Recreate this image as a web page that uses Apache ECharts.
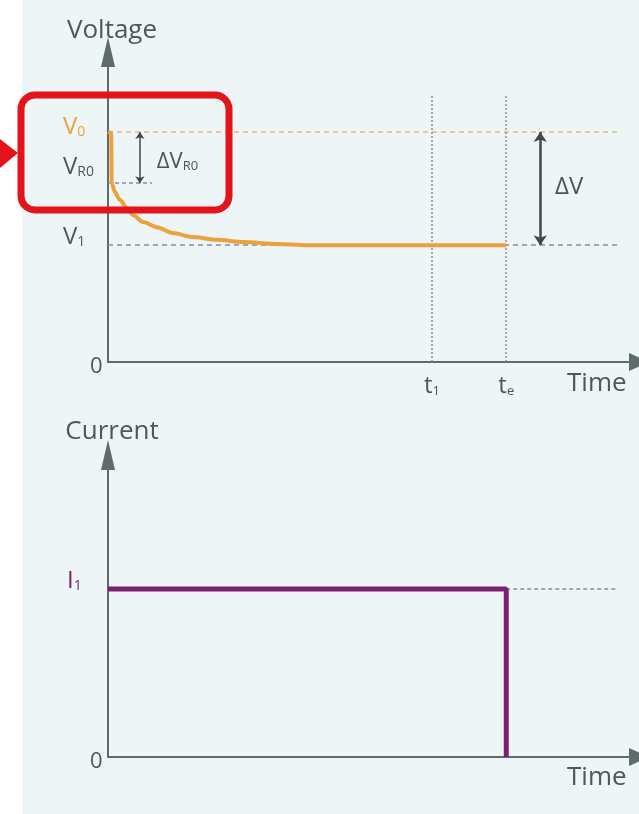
<!DOCTYPE html>
<html>
<head>
<meta charset="utf-8">
<script src="https://cdn.jsdelivr.net/npm/echarts@6/dist/echarts.min.js"></script>
<style>
html,body{margin:0;padding:0;}
body{background:linear-gradient(to right,#ffffff 22px,#edf5f7 22px);}
#chart{width:639px;height:814px;}
</style>
</head>
<body>
<div id="chart"></div>
<script>
// ---- data ----
const timeMax = 100;
const t1 = 61, te = 75;
const V0 = 74.2, VR0 = 57.7, V1 = 37.7;
const voltageTime  = [0, 0.6, 0.7, 1.3, 2.2, 3.6, 4.7, 6.6, 9.2, 12.2, 16.0, 20.5, 25.4, 31.8, 37.4, 75];
const voltageValue = [74.2, 73.9, 57.7, 54.8, 52.3, 49.7, 47.4, 45.2, 43.5, 41.6, 40.3, 39.4, 38.7, 38.1, 37.7, 37.7];
const I1 = 55.6;
const currentTime  = [0, 75, 75];
const currentValue = [I1, I1, 0];
const dashEnd = 96;
const tLineTop = 86.1;
const dVx = 81.4, dVR0x = 6.0, vr0DashEnd = 8.3;
const dVLabelPos = [84.2, 56.5];
const dVR0LabelPos = [9.2, 64.5];
const vTickValues = [0, VR0, V1, V0];
const vTickLabels = ['{z|0}', '{ra|V}{rb|R0}', '{ua|V}{ub|1}', '{oa|V}{ob|0}'];
const tTickValues = [t1, te];
const tTickLabels = ['{t|t}{ts|1}', '{t|t}{ts|e}'];
const iTickValues = [0, I1];
const iTickLabels = ['{z|0}', '{ia|I}{ib|1}'];

const FONT = '"Open Sans", sans-serif';
const TXT = '#4f5858';
const AX = '#5f6a6a';
const ORANGE = '#eba23b';
const PURPLE = '#7b1f6f';
const GRAYDASH = '#84909a';

function pick(values, labels) {
  return function (v) {
    for (let i = 0; i < values.length; i++) if (Math.abs(v - values[i]) < 1e-6) return labels[i];
    return '';
  };
}

const bigV = {fontFamily: FONT, fontSize: 24, color: TXT, verticalAlign: 'bottom'};
const smallV = {fontFamily: FONT, fontSize: 14, color: TXT, verticalAlign: 'bottom'};
function st(base, extra) { return Object.assign({}, base, extra); }

const chart = echarts.init(document.getElementById('chart'), null, {renderer: 'canvas'});
const option = {
  backgroundColor: 'transparent',
  animation: false,
  grid: [
    {left: 108, top: 52, width: 531, height: 310},
    {left: 108, top: 455, width: 531, height: 302}
  ],
  xAxis: [
    {
      gridIndex: 0, type: 'value', min: 0, max: timeMax,
      axisLine: {show: true, symbol: ['none', 'triangle'], symbolSize: [18, 20], lineStyle: {color: AX, width: 2}},
      axisTick: {show: false}, splitLine: {show: false},
      axisLabel: {
        customValues: tTickValues, formatter: pick(tTickValues, tTickLabels), margin: 12,
        rich: {
          t: {fontFamily: FONT, fontSize: 24, color: TXT, verticalAlign: 'bottom'},
          ts: {fontFamily: FONT, fontSize: 13, color: TXT, verticalAlign: 'bottom'}
        }
      },
      name: 'Time', nameLocation: 'end', nameGap: -72,
      nameTextStyle: {fontFamily: FONT, fontSize: 26, color: TXT, verticalAlign: 'top', padding: [9, 0, 0, 0]}
    },
    {
      gridIndex: 1, type: 'value', min: 0, max: timeMax,
      axisLine: {show: true, symbol: ['none', 'triangle'], symbolSize: [18, 20], lineStyle: {color: AX, width: 2}},
      axisTick: {show: false}, splitLine: {show: false}, axisLabel: {show: false},
      name: 'Time', nameLocation: 'end', nameGap: -72,
      nameTextStyle: {fontFamily: FONT, fontSize: 26, color: TXT, verticalAlign: 'top', padding: [8, 0, 0, 0]}
    }
  ],
  yAxis: [
    {
      gridIndex: 0, type: 'value', min: 0, max: 100,
      axisLine: {show: true, symbol: ['none', 'triangle'], symbolSize: [14, 30], lineStyle: {color: AX, width: 2}},
      axisTick: {show: false}, splitLine: {show: false},
      axisLabel: {
        customValues: vTickValues, formatter: pick(vTickValues, vTickLabels), align: 'left', margin: 45,
        rich: {
          z: {fontFamily: FONT, fontSize: 22, color: TXT, padding: [10, 0, 0, 27]},
          oa: st(bigV, {color: ORANGE, padding: [0, 0, 10, 0]}),
          ob: st(smallV, {color: ORANGE, padding: [0, 0, 10, 0]}),
          ra: st(bigV, {padding: [0, 0, 32, 0]}),
          rb: st(smallV, {padding: [0, 0, 32, 0]}),
          ua: st(bigV, {padding: [0, 0, 16, 0]}),
          ub: st(smallV, {padding: [0, 0, 16, 0]})
        }
      },
      name: 'Voltage', nameLocation: 'end', nameGap: 8,
      nameTextStyle: {fontFamily: FONT, fontSize: 26, color: TXT, padding: [0, 0, 0, 8]}
    },
    {
      gridIndex: 1, type: 'value', min: 0, max: 100,
      axisLine: {show: true, symbol: ['none', 'triangle'], symbolSize: [14, 30], lineStyle: {color: AX, width: 2}},
      axisTick: {show: false}, splitLine: {show: false},
      axisLabel: {
        customValues: iTickValues, formatter: pick(iTickValues, iTickLabels), align: 'left', margin: 45,
        rich: {
          z: {fontFamily: FONT, fontSize: 22, color: TXT, padding: [10, 0, 0, 27]},
          ia: st(bigV, {color: PURPLE, padding: [0, 0, 16, 4]}),
          ib: st(smallV, {color: PURPLE, padding: [0, 0, 16, 0]})
        }
      },
      name: 'Current', nameLocation: 'end', nameGap: 10,
      nameTextStyle: {fontFamily: FONT, fontSize: 26, color: TXT, padding: [0, 0, 0, 8]}
    }
  ],
  series: [
    {
      name: 'Voltage', type: 'line', xAxisIndex: 0, yAxisIndex: 0,
      data: voltageTime.map((t, i) => [t, voltageValue[i]]),
      showSymbol: false, smooth: 0.3, smoothMonotone: 'x',
      lineStyle: {color: ORANGE, width: 4}, z: 5,
      markLine: {
        silent: true, symbol: 'none', label: {show: false},
        data: [
          [{coord: [0, V0], lineStyle: {color: '#eab87a', type: [5, 4], width: 1.5}}, {coord: [dashEnd, V0]}],
          [{coord: [0, V1], lineStyle: {color: GRAYDASH, type: [5, 4], width: 1.5}}, {coord: [dashEnd, V1]}],
          [{coord: [0, VR0], lineStyle: {color: GRAYDASH, type: [4, 3], width: 1.5}}, {coord: [vr0DashEnd, VR0]}],
          [{coord: [t1, 0], lineStyle: {color: GRAYDASH, type: [2, 2], width: 1.5}}, {coord: [t1, tLineTop]}],
          [{coord: [te, 0], lineStyle: {color: GRAYDASH, type: [2, 2], width: 1.5}}, {coord: [te, tLineTop]}],
          [{coord: [dVx, V0], symbol: 'arrow', symbolSize: 10, lineStyle: {color: '#3f4949', type: 'solid', width: 2.5}},
           {coord: [dVx, V1], symbol: 'arrow', symbolSize: 10}],
          [{coord: [dVR0x, V0], symbol: 'arrow', symbolSize: 7, lineStyle: {color: '#3f4949', type: 'solid', width: 1.5}},
           {coord: [dVR0x, VR0], symbol: 'arrow', symbolSize: 7}]
        ]
      },
      markPoint: {
        silent: true,
        data: [
          {coord: dVLabelPos, symbol: 'circle', symbolSize: 1, itemStyle: {color: 'rgba(0,0,0,0)'},
           label: {show: true, position: 'inside', align: 'left', verticalAlign: 'middle', formatter: '{d|ΔV}',
                   rich: {d: {fontFamily: FONT, fontSize: 24, color: '#4a5555'}}}},
          {coord: dVR0LabelPos, symbol: 'circle', symbolSize: 1, itemStyle: {color: 'rgba(0,0,0,0)'},
           label: {show: true, position: 'inside', align: 'left', verticalAlign: 'middle', formatter: '{d|ΔV}{s|R0}',
                   rich: {d: {fontFamily: FONT, fontSize: 22, color: '#4a5555', verticalAlign: 'bottom'},
                          s: {fontFamily: FONT, fontSize: 13, color: '#4a5555', verticalAlign: 'bottom'}}}}
        ]
      }
    },
    {
      name: 'Current', type: 'line', xAxisIndex: 1, yAxisIndex: 1,
      data: currentTime.map((t, i) => [t, currentValue[i]]),
      showSymbol: false, lineStyle: {color: PURPLE, width: 5}, z: 5,
      markLine: {
        silent: true, symbol: 'none', label: {show: false},
        data: [
          [{coord: [te, I1], lineStyle: {color: GRAYDASH, type: [4, 3], width: 1.5}}, {coord: [dashEnd, I1]}]
        ]
      }
    }
  ],
  graphic: [
    {type: 'rect', shape: {x: 21, y: 95, width: 208, height: 115, r: 14},
     style: {fill: 'none', stroke: '#e3141b', lineWidth: 7}, z: 100},
    {type: 'polygon', shape: {points: [[0, 139], [18, 153], [0, 168]]},
     style: {fill: '#e3141b'}, z: 100}
  ]
};
chart.setOption(option);
</script>
</body>
</html>
